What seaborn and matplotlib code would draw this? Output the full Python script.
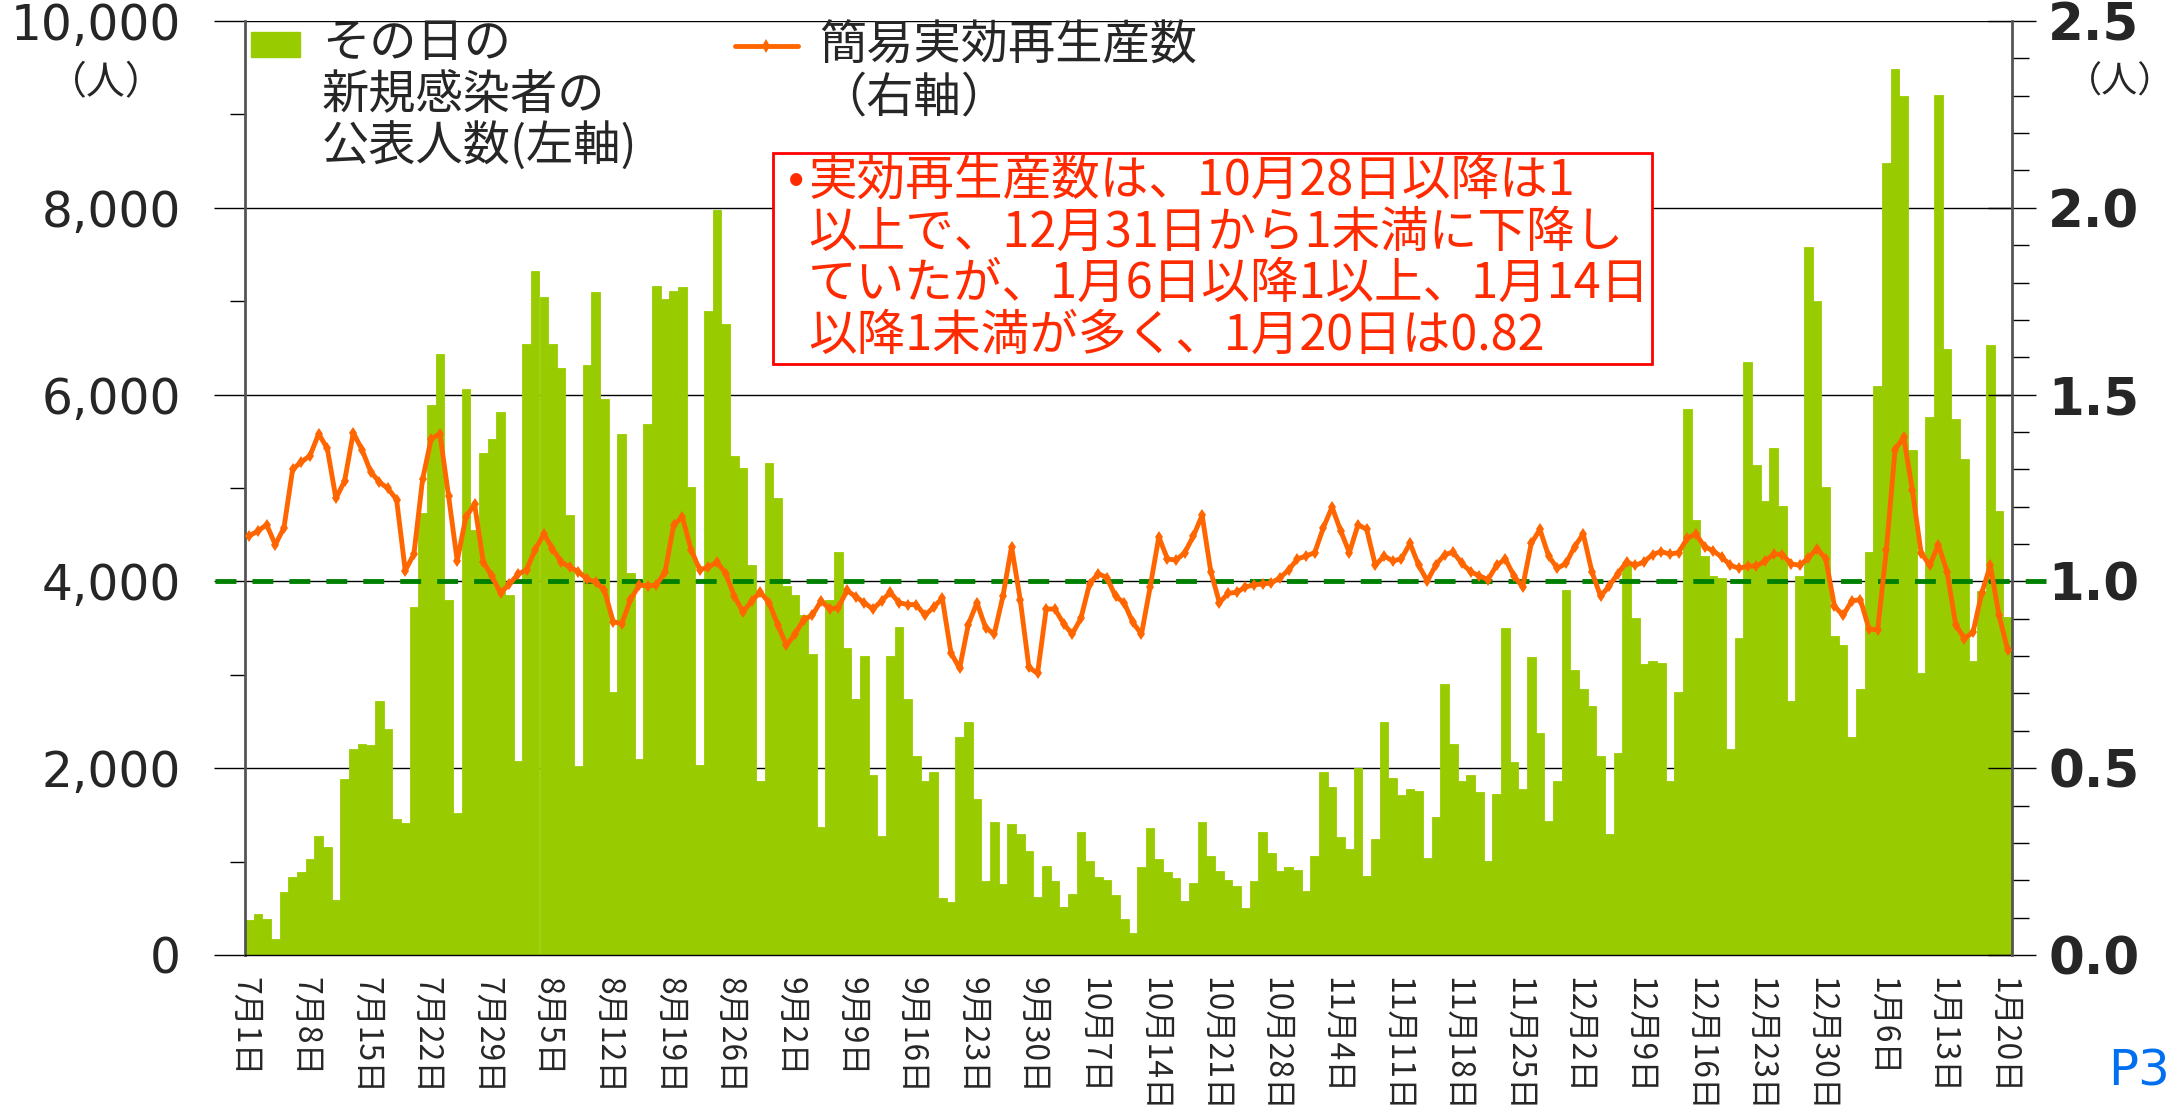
import numpy as np
import pandas as pd
import matplotlib
matplotlib.use("Agg")
import matplotlib.pyplot as plt
import seaborn as sns
from matplotlib.ticker import MultipleLocator, FixedLocator
from matplotlib.patches import Rectangle
from matplotlib.lines import Line2D

# daily new cases (left axis), 2020-07-01 .. 2021-01-20
cases = [
    375, 442, 388, 174, 670, 837, 891,
    1025, 1279, 1152, 589, 1889, 2210, 2257,
    2244, 2719, 2425, 1457, 1418, 3729, 4729,
    5886, 6430, 3797, 1517, 6057, 4550, 5375,
    5524, 5819, 3857, 2080, 6537, 7321, 7040,
    6544, 6283, 4709, 2023, 6316, 7100, 5948,
    2813, 5579, 4086, 2096, 5680, 7167, 7019,
    7113, 7153, 5010, 2029, 6899, 7977, 6752,
    5345, 5211, 4173, 1862, 5265, 4896, 3950,
    3858, 3637, 3228, 1373, 3800, 4320, 3289,
    2746, 3202, 1929, 1279, 3202, 3516, 2746,
    2130, 1862, 1956, 610, 569, 2331, 2498,
    1674, 790, 1427, 757, 1407, 1293, 1112,
    623, 958, 790, 509, 656, 1313, 1005,
    837, 804, 643, 388, 234, 944, 1360,
    1025, 891, 824, 576, 770, 1420, 1058,
    904, 804, 737, 502, 790, 1313, 1092,
    904, 938, 911, 690, 1058, 1962, 1795,
    1259, 1139, 2003, 844, 1239, 2500, 1895,
    1708, 1782, 1755, 1038, 1474, 2900, 2264,
    1862, 1929, 1741, 1005, 1728, 3503, 2063,
    1775, 3188, 2378, 1440, 1862, 3905, 3048,
    2847, 2666, 2130, 1293, 2163, 4206, 3604,
    3115, 3148, 3121, 1862, 2813, 5847, 4662,
    4273, 4059, 4032, 2210, 3389, 6350, 5245,
    4863, 5432, 4809, 2719, 4059, 7575, 6999,
    5010, 3416, 3322, 2331, 2853, 4320, 6095,
    8480, 9484, 9196, 5412, 3021, 5760, 9210,
    6484, 5734, 5311, 3148, 3900, 6530, 4755,
    3624,
]

# simple effective reproduction number (right axis)
rt = [
    1.122, 1.135, 1.152, 1.098, 1.144, 1.30, 1.32,
    1.336, 1.395, 1.356, 1.222, 1.269, 1.398, 1.353,
    1.294, 1.266, 1.249, 1.219, 1.029, 1.073, 1.273,
    1.382, 1.395, 1.229, 1.055, 1.172, 1.207, 1.053,
    1.014, 0.969, 0.992, 1.019, 1.031, 1.085, 1.127,
    1.088, 1.052, 1.038, 1.026, 1.006, 0.998, 0.976,
    0.892, 0.887, 0.951, 0.99, 0.988, 0.99, 1.026,
    1.152, 1.172, 1.085, 1.031, 1.038, 1.052, 1.021,
    0.96, 0.918, 0.948, 0.971, 0.943, 0.884, 0.829,
    0.859, 0.898, 0.909, 0.948, 0.926, 0.93, 0.976,
    0.959, 0.943, 0.926, 0.948, 0.971, 0.943, 0.938,
    0.938, 0.909, 0.931, 0.955, 0.809, 0.767, 0.884,
    0.943, 0.876, 0.859, 0.96, 1.093, 0.951, 0.77,
    0.754, 0.926, 0.926, 0.887, 0.859, 0.901, 0.993,
    1.021, 1.01, 0.96, 0.943, 0.89, 0.859, 0.985,
    1.119, 1.06, 1.057, 1.077, 1.122, 1.177, 1.026,
    0.943, 0.968, 0.971, 0.985, 0.991, 0.993, 0.996,
    1.01, 1.031, 1.06, 1.068, 1.077, 1.144, 1.199,
    1.135, 1.077, 1.152, 1.139, 1.043, 1.068, 1.055,
    1.06, 1.102, 1.043, 1.001, 1.045, 1.072, 1.078,
    1.048, 1.026, 1.015, 1.005, 1.043, 1.06, 1.015,
    0.985, 1.102, 1.139, 1.068, 1.035, 1.048, 1.093,
    1.127, 1.026, 0.96, 0.988, 1.021, 1.052, 1.043,
    1.052, 1.072, 1.08, 1.073, 1.077, 1.115, 1.127,
    1.093, 1.082, 1.065, 1.043, 1.035, 1.041, 1.041,
    1.055, 1.073, 1.072, 1.047, 1.043, 1.063, 1.088,
    1.06, 0.934, 0.909, 0.948, 0.951, 0.872, 0.871,
    1.085, 1.353, 1.386, 1.244, 1.077, 1.043, 1.098,
    1.026, 0.884, 0.847, 0.864, 0.968, 1.043, 0.909,
    0.817,
]

tick_labels = [
    '7月1日', '7月8日', '7月15日', '7月22日', '7月29日', '8月5日', '8月12日',
    '8月19日', '8月26日', '9月2日', '9月9日', '9月16日', '9月23日', '9月30日',
    '10月7日', '10月14日', '10月21日', '10月28日', '11月4日', '11月11日',
    '11月18日', '11月25日', '12月2日', '12月9日', '12月16日', '12月23日',
    '12月30日', '1月6日', '1月13日', '1月20日',
]

dates = pd.date_range('2020-07-01', '2021-01-20', freq='D')
day_names = [f'{d.month}月{d.day}日' for d in dates]
df = pd.DataFrame({'day': day_names, 'cases': cases, 'rt': rt, 'pos': np.arange(len(dates))})

bar_color = '#99cc00'
line_color = '#ff6600'
note_color = '#ff2a00'

sns.set_style('white')
plt.rcParams['font.family'] = ['Noto Sans CJK JP', 'DejaVu Sans']

W, H = 2176, 1111
fig = plt.figure(figsize=(W / 100, H / 100), dpi=100)
ax = fig.add_axes([245 / W, 1 - 955 / H, 1767 / W, 934 / H])

sns.barplot(data=df, x='day', y='cases', color=bar_color, saturation=1,
            width=1.0, linewidth=0.6, edgecolor=bar_color, ax=ax)
ax.set_xlim(-0.5, len(df) - 0.5)
ax.set_ylim(0, 10000)
ax.set_xlabel('')
ax.set_ylabel('')
ax.set_axisbelow(True)

# x ticks at the left edge of each weekly bar
ax.xaxis.set_major_locator(FixedLocator(np.arange(0, len(df), 7) - 0.5))
ax.set_xticklabels(tick_labels, rotation=270, fontsize=23, va='top', ha='center')
ax.tick_params(axis='x', direction='inout', length=16, width=1.3, color='black', pad=8)

ax.set_yticks(np.arange(0, 10001, 2000))
ax.yaxis.set_minor_locator(MultipleLocator(1000))
ax.set_yticklabels([f'{v:,}' for v in range(0, 10001, 2000)],
                   fontsize=35, family='DejaVu Sans')
ax.tick_params(axis='y', which='major', direction='out', length=22, width=1,
               color='black', pad=24)
ax.tick_params(axis='y', which='minor', direction='out', length=11, width=1,
               color='black', left=True)
ax.grid(axis='y', which='major', color='black', lw=1)
ax.grid(axis='x', visible=False)

for s in ['top', 'right']:
    ax.spines[s].set_visible(False)
ax.spines['left'].set_color('#555555')
ax.spines['left'].set_linewidth(2)
ax.spines['bottom'].set_color('black')
ax.spines['bottom'].set_linewidth(1)

# right axis: reproduction number
ax2 = ax.twinx()
ax2.axhline(1.0, xmin=-0.017, xmax=1.019, color='#008000', lw=3.5,
            dashes=(4.3, 3.3), clip_on=False, zorder=2)
sns.lineplot(data=df, x='pos', y='rt', ax=ax2, color=line_color, lw=3.5,
             marker='d', markersize=6, markeredgewidth=0, zorder=3)
ax2.set_xlim(-0.5, len(df) - 0.5)
ax2.set_ylim(0, 2.5)
ax2.set_ylabel('')
ax2.set_yticks(np.arange(0, 2.51, 0.5))
ax2.yaxis.set_minor_locator(MultipleLocator(0.1))
ax2.set_yticklabels([f'{v:.1f}' for v in np.arange(0, 2.51, 0.5)],
                    fontsize=37, fontweight='bold', family='DejaVu Sans')
ax2.tick_params(axis='y', which='major', direction='inout', length=34, width=1,
                color='black', pad=9, right=True, left=False)
ax2.tick_params(axis='y', which='minor', direction='out', length=12, width=1,
                color='black', right=True, left=False)
ax2.grid(False)
for s in ['top', 'left', 'bottom']:
    ax2.spines[s].set_visible(False)
ax2.spines['right'].set_color('#555555')
ax2.spines['right'].set_linewidth(2)

# legend (drawn by hand so the key sits beside the first line of text)
def fx(px):
    return (px - 245) / 1767


def fy(py):
    return (955 - py) / 934


ax2.add_patch(Rectangle((fx(251), fy(57)), fx(300) - fx(251), fy(32) - fy(57),
                        transform=ax2.transAxes, color=bar_color, clip_on=False))
ax2.text(fx(322), fy(20), 'その日の\n新規感染者の\n公表人数(左軸)', transform=ax2.transAxes,
         fontsize=34, linespacing=1.08, ha='left', va='top')
ax2.add_line(Line2D([fx(735), fx(766), fx(798)], [fy(46)] * 3, transform=ax2.transAxes,
                    color=line_color, lw=3.5, marker='d', markersize=7,
                    markeredgewidth=0, markevery=[1], clip_on=False))
ax2.text(fx(819), fy(22), '簡易実効再生産数\n（右軸）', transform=ax2.transAxes,
         fontsize=34, linespacing=1.08, ha='left', va='top')

# axis unit labels
fig.text(106 / W, 1 - 83 / H, '（人）', fontsize=28, ha='center', va='center')
fig.text(2174 / W, 1 - 83 / H, '（人）', fontsize=26, ha='right', va='center')

# annotation box
fig.patches.append(Rectangle((773 / W, 1 - 364 / H), (1652 - 773) / W, (364 - 153) / H,
                             transform=fig.transFigure, facecolor='white',
                             edgecolor='red', lw=2, zorder=5))
note = ('実効再生産数は、10月28日以降は1\n'
        '以上で、12月31日から1未満に下降し\n'
        'ていたが、1月6日以降1以上、1月14日\n'
        '以降1未満が多く、1月20日は0.82')
fig.text(788 / W, 1 - 180 / H, '•', fontsize=35, color=note_color, ha='left',
         va='center', zorder=6)
fig.text(808 / W, 1 - 156 / H, note, fontsize=35, color=note_color, ha='left',
         va='top', linespacing=1.06, zorder=6)

fig.text(2108 / W, 1 - 1047 / H, 'P3', fontsize=36, color='#0070f0',
         ha='left', va='top', family='DejaVu Sans')

fig.savefig('out.png', dpi=100)
